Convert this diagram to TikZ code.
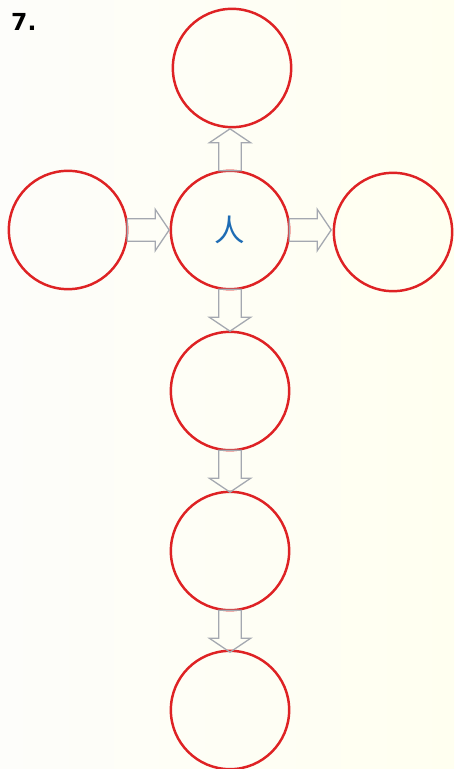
\documentclass[tikz,border=0pt]{standalone}
\usepackage{fontspec}
\newfontfamily\cjk{Noto Sans CJK SC}
\newfontfamily\numfont{DejaVu Sans}
\usepackage{tikz}
\usetikzlibrary{calc,positioning,shapes.arrows}

\definecolor{ringred}{RGB}{222,34,36}
\definecolor{arrowgray}{RGB}{164,168,176}
\definecolor{charblue}{RGB}{30,108,180}
\definecolor{paperleft}{RGB}{253,253,250}
\definecolor{paperright}{RGB}{255,255,240}

\begin{document}
\begin{tikzpicture}[
    x=0.03cm,y=-0.03cm,
    ring/.style={draw=ringred, circle, line width=2.1pt, minimum size=3.55cm,
      inner sep=0pt, outer sep=0pt},
    flow/.style={draw=arrowgray, single arrow, line width=1.1pt, inner sep=0.32cm,
      single arrow head extend=0.28cm, minimum height=1.26cm, outer sep=0pt,
      single arrow tip angle=112, anchor=tail}
  ]
    \shade[left color=paperleft, right color=paperright] (0,0) rectangle (454,769);
    \useasboundingbox (0,0) rectangle (454,769);

    \node[font=\numfont\bfseries\fontsize{20}{24}\selectfont, anchor=north west,
      inner sep=0pt] (num) at (11,13) {7.};

    \node[ring] (hub) at (230,230) {};
    \node[ring] (up) at (232,68) {};
    \node[ring] (left) at (68,230) {};
    \node[ring] (right) at (393,232) {};
    \node[ring] (down1) at (230,391) {};
    \node[ring] (down2) at (230,551) {};
    \node[ring] (down3) at (230,710) {};

    \node[font=\cjk\fontsize{26}{26}\selectfont, text=charblue] (ren) at (hub) {人};

    % block arrows between the circles
    \node[flow] (a-left) at (left.east) {};
    \node[flow, rotate=90] (a-up) at (hub.north) {};
    \node[flow] (a-right) at (hub.east) {};
    \node[flow, rotate=-90] (a-down1) at (hub.south) {};
    \node[flow, rotate=-90] (a-down2) at (down1.south) {};
    \node[flow, rotate=-90] (a-down3) at (down2.south) {};
  \end{tikzpicture}
\end{document}
